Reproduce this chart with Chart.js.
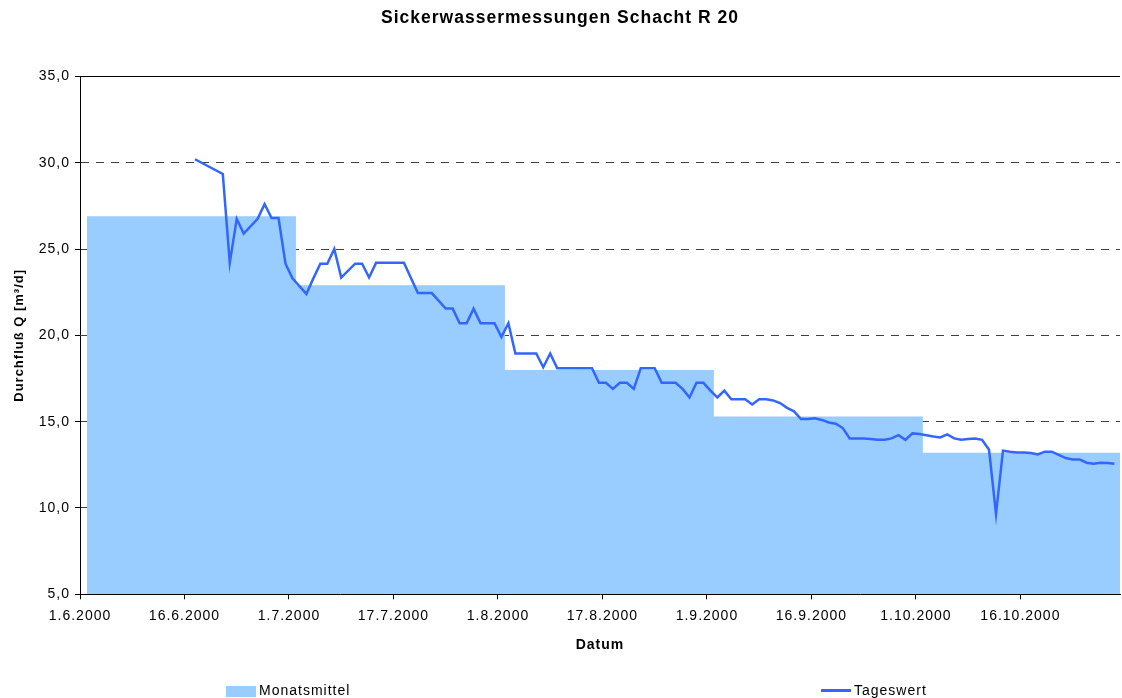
<!DOCTYPE html>
<html lang="de">
<head>
<meta charset="utf-8">
<title>Sickerwassermessungen Schacht R 20</title>
<script src="https://cdn.jsdelivr.net/npm/chart.js@4/dist/chart.umd.min.js"></script>
<style>
  html, body { margin: 0; padding: 0; background: #fff; }
  canvas { display: block; }
</style>
</head>
<body>
<canvas id="chart" width="1122" height="698"></canvas>
<script>
// x = Tagesnummer (Kategorie) ab 1.6.2000, alle 15 Tage eine Beschriftung
const tickLabels = ['1.6.2000', '16.6.2000', '1.7.2000', '17.7.2000', '1.8.2000',
                    '17.8.2000', '1.9.2000', '16.9.2000', '1.10.2000', '16.10.2000'];
const labelEvery = 15;
const lastDay = 149.3;

// Monatsmittel: Monatsgrenzen (Tagesnummer) und Mittelwerte [m³/d]
const monthBounds = [1, 31, 61, 91, 121, 150];
const monthMean = [26.9, 22.9, 18.0, 15.3, 13.2];

// Tageswerte
const dayIndex = [16, 20, 21, 22, 23, 25, 26, 27, 28, 29, 30, 32, 33, 34, 35, 36, 37, 39, 40, 41,
                  42, 46, 48, 50, 52, 53, 54, 55, 56, 57, 59, 60, 61, 62, 65, 66, 67, 68, 73, 74,
                  75, 76, 77, 78, 79, 80, 82, 83, 85, 86, 87, 88, 89, 90, 91, 92, 93, 95, 96, 97,
                  98, 99, 100, 101, 102, 103, 104, 105, 106, 107, 108, 109, 110, 112, 113, 114, 115, 116, 117, 118,
                  119, 120, 122, 123, 124, 125, 126, 127, 128, 129, 130, 131, 132, 133, 134, 135, 136, 137, 138, 139,
                  140, 141, 142, 143, 144, 145, 146, 147, 148];
const dayValue = [30.2, 29.35, 24.2, 26.75, 25.9, 26.75, 27.6, 26.8, 26.8, 24.15, 23.3, 22.4, 23.3, 24.15, 24.15, 25.0, 23.35, 24.15, 24.15, 23.35,
                  24.2, 24.2, 22.45, 22.45, 21.55, 21.55, 20.7, 20.7, 21.55, 20.7, 20.7, 19.9, 20.7, 18.95, 18.95, 18.15, 18.95, 18.1, 18.1, 17.25,
                  17.25, 16.9, 17.25, 17.25, 16.9, 18.1, 18.1, 17.25, 17.25, 16.9, 16.4, 17.25, 17.25, 16.8, 16.4, 16.8, 16.3, 16.3, 16.0, 16.3,
                  16.3, 16.23, 16.08, 15.8, 15.6, 15.15, 15.15, 15.2, 15.1, 14.95, 14.88, 14.63, 14.03, 14.03, 13.99, 13.95, 13.95, 14.03, 14.22, 13.95,
                  14.32, 14.28, 14.14, 14.09, 14.26, 14.03, 13.95, 13.99, 14.03, 13.95, 13.37, 9.65, 13.32, 13.26, 13.22, 13.22, 13.18, 13.1, 13.26, 13.26,
                  13.07, 12.89, 12.81, 12.81, 12.62, 12.56, 12.62, 12.6, 12.56];

const FONT = '"Liberation Sans", Arial, sans-serif';
Chart.defaults.font.family = FONT;
Chart.defaults.font.size = 14;
Chart.defaults.color = '#000';

// Excel-artige, etwas breiter laufende Schrift
const spacing = {
    id: 'spacing',
    beforeLayout(chart) { chart.ctx.letterSpacing = '1px'; },
    beforeDraw(chart) { chart.ctx.letterSpacing = '1px'; }
};

// obere Rahmenlinie + Legende unten
const frameAndLegend = {
    id: 'frameAndLegend',
    afterDraw(chart) {
        const { ctx, chartArea } = chart;
        const [daily, monthly] = chart.data.datasets;
        ctx.save();
        ctx.strokeStyle = '#000';
        ctx.lineWidth = 1;
        ctx.beginPath();
        ctx.moveTo(chartArea.left, Math.round(chartArea.top) + 0.5);
        ctx.lineTo(chartArea.right, Math.round(chartArea.top) + 0.5);
        ctx.stroke();

        ctx.font = '14px ' + FONT;
        ctx.textBaseline = 'middle';
        ctx.textAlign = 'left';
        ctx.fillStyle = monthly.backgroundColor;
        ctx.fillRect(226, 686, 30, 11);
        ctx.fillStyle = '#000';
        ctx.fillText(monthly.label, 259, 691);

        ctx.strokeStyle = daily.borderColor;
        ctx.lineWidth = 3;
        ctx.beginPath();
        ctx.moveTo(821, 690.5);
        ctx.lineTo(851, 690.5);
        ctx.stroke();
        ctx.fillStyle = '#000';
        ctx.fillText(daily.label, 854, 691);
        ctx.restore();
    }
};

const dailyPoints = dayIndex.map((d, i) => ({ x: d + 0.5, y: dayValue[i] }));
const monthPoints = monthBounds.map((d, i) => ({ x: d, y: monthMean[Math.min(i, monthMean.length - 1)] }));

new Chart(document.getElementById('chart'), {
    type: 'line',
    data: {
        datasets: [{
            label: 'Tageswert',
            data: dailyPoints,
            borderColor: '#3366FF',
            borderWidth: 2.5,
            pointRadius: 0,
            tension: 0,
            fill: false
        }, {
            label: 'Monatsmittel',
            data: monthPoints,
            stepped: true,
            borderWidth: 0,
            borderColor: 'rgba(0,0,0,0)',
            backgroundColor: '#99CCFF',
            pointRadius: 0,
            fill: 'start'
        }]
    },
    options: {
        responsive: false,
        devicePixelRatio: 1,
        animation: false,
        events: [],
        layout: { padding: { left: 0, right: 2, top: 0, bottom: 0 } },
        plugins: {
            legend: { display: false },
            tooltip: { enabled: false },
            title: {
                display: true,
                text: 'Sickerwassermessungen Schacht R 20',
                font: { size: 17.5, weight: 'bold' },
                color: '#000',
                padding: { top: 7.5, bottom: 47.9 }
            }
        },
        scales: {
            x: {
                type: 'linear',
                min: 0,
                max: lastDay,
                afterFit(scale) { scale.height = 103.7; },
                afterBuildTicks(scale) {
                    scale.ticks = tickLabels.map((_, i) => ({ value: i * labelEvery }));
                },
                ticks: {
                    autoSkip: false,
                    maxRotation: 0,
                    padding: 8,
                    callback: (v) => tickLabels[Math.round(v / labelEvery)]
                },
                grid: {
                    drawOnChartArea: false,
                    drawTicks: true,
                    tickLength: 5,
                    tickColor: '#000'
                },
                border: { color: '#000', width: 1 },
                title: {
                    display: true,
                    text: 'Datum',
                    font: { size: 14, weight: 'bold' },
                    padding: { top: 0, bottom: 44.6 }
                }
            },
            y: {
                min: 5,
                max: 35,
                afterFit(scale) { scale.width = 80; },
                ticks: {
                    stepSize: 5,
                    padding: 5,
                    callback: (v) => v.toFixed(1).replace('.', ',')
                },
                grid: {
                    color: (c) => (c.tick && (c.tick.value === 35 || c.tick.value === 5)) ? 'rgba(0,0,0,0)' : '#404040',
                    lineWidth: 1,
                    tickLength: 5,
                    tickColor: '#000'
                },
                border: { color: '#000', width: 1, dash: [8, 7] },
                title: {
                    display: true,
                    text: 'Durchfluß Q [m³/d]',
                    font: { size: 13, weight: 'bold' },
                    padding: { top: 12, bottom: 0 }
                }
            }
        }
    },
    plugins: [spacing, frameAndLegend]
});
</script>
</body>
</html>
